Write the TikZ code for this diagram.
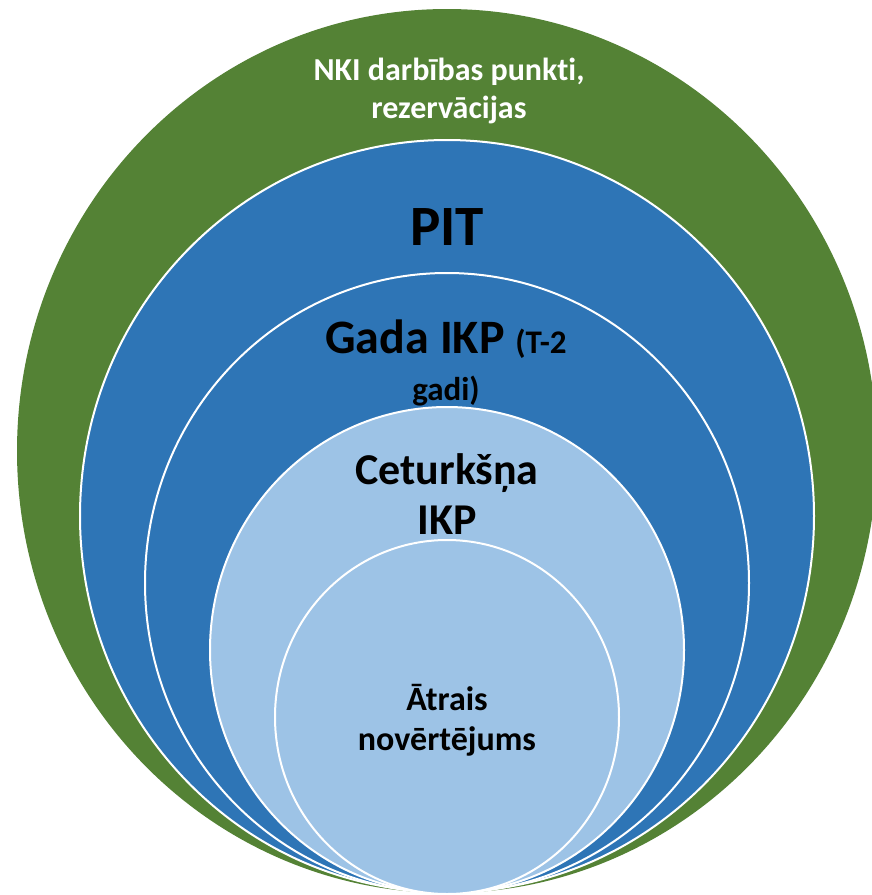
\documentclass[tikz,border=0pt]{standalone}
\usepackage{fontspec}
\setmainfont{Carlito}[Ligatures=NoCommon]
\usetikzlibrary{positioning}
\definecolor{nkigreen}{HTML}{548235}
\definecolor{pitblue}{HTML}{2E75B6}
\definecolor{ikpblue}{HTML}{9DC3E6}

\begin{document}
\begin{tikzpicture}[x=1pt,y=-1pt,
	ring/.style={draw=white,line width=2pt},
	lbl/.style={align=center,text=black,inner sep=0pt}]
	\useasboundingbox (0,0) rectangle (872,895);
	\fill[nkigreen] (447,451) ellipse [x radius=430pt,y radius=442pt];
	\filldraw[ring,fill=pitblue] (447,516) ellipse [x radius=367pt,y radius=376pt];
	\filldraw[ring,fill=pitblue] (447,583) ellipse [x radius=302pt,y radius=310pt];
	\filldraw[ring,fill=ikpblue] (447,650) ellipse [x radius=237pt,y radius=243pt];
	\filldraw[ring,fill=ikpblue] (447,717) ellipse [x radius=172pt,y radius=177pt];
	\node[lbl,text=white,font=\bfseries\fontsize{32}{38}\selectfont] (nki) at (449,91) {NKI darbības punkti,\\rezervācijas};
	\node[lbl,font=\bfseries\fontsize{57}{60}\selectfont] (pit) at (447,227) {PIT};
	\node[lbl,font=\bfseries\fontsize{48}{47}\selectfont] (gada) at (446,363) {Gada IKP {\fontsize{33}{47}\selectfont(T-2}\\{\fontsize{33}{47}\selectfont gadi)}};
	\node[lbl,font=\bfseries\fontsize{44}{50}\selectfont] (cet) at (447,494) {Ceturkšņa\\IKP};
	\node[lbl,font=\bfseries\fontsize{34}{40}\selectfont] (atr) at (447,720) {Ātrais\\novērtējums};
\end{tikzpicture}
\end{document}
